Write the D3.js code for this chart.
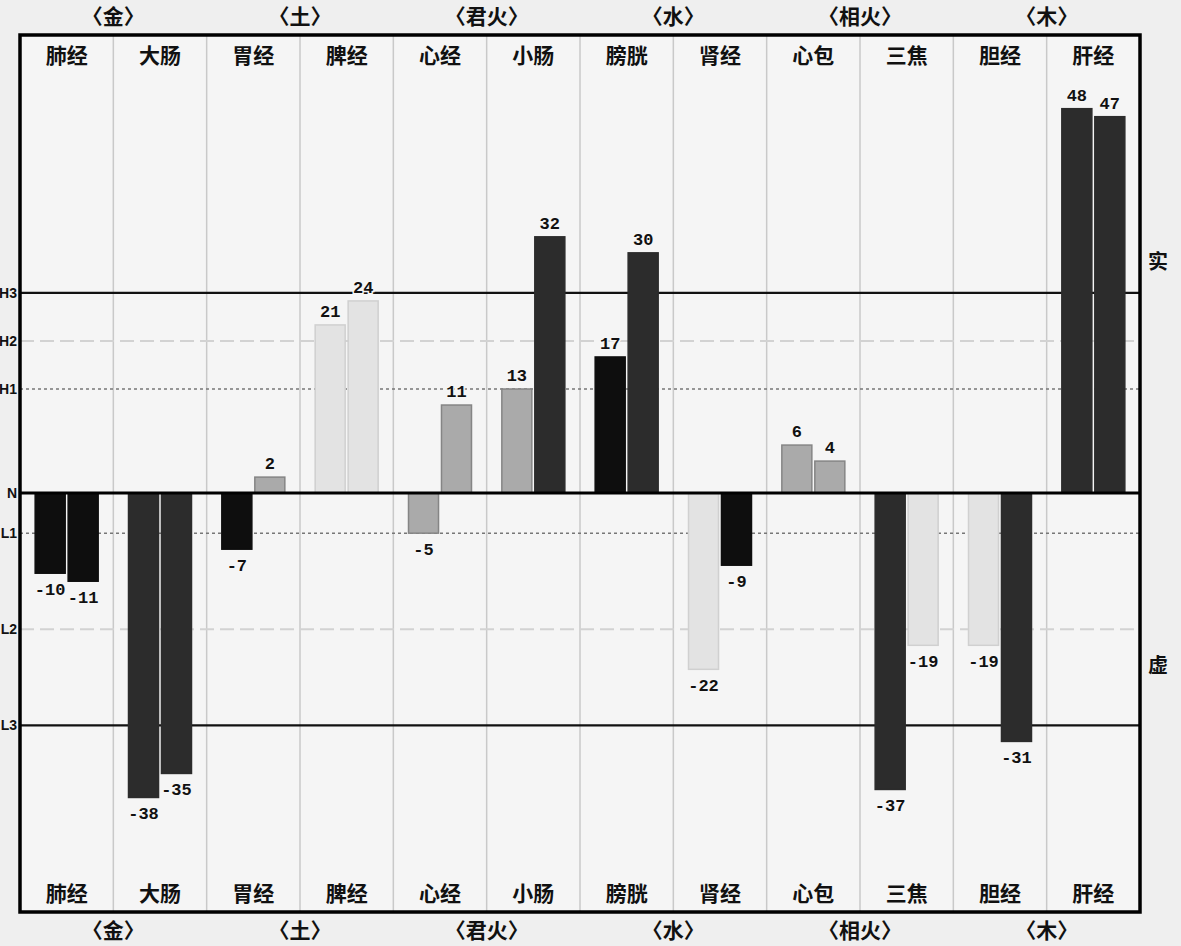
<!DOCTYPE html>
<html>
<head>
<meta charset="utf-8">
<script src="https://cdn.jsdelivr.net/npm/d3@7"></script>
<style>
  body { margin: 0; background: #efefef; }
  svg { display: block; }
  .col-label, .elem-label, .side-label { font-family: "Noto Sans CJK SC", sans-serif; font-weight: 700; fill: #111; }
  .val { font-family: "Liberation Mono", monospace; font-weight: 700; font-size: 17px; fill: #111;
         stroke: #f6f6f6; stroke-width: 3px; paint-order: stroke; }
  .lvl { font-family: "Liberation Sans Narrow", "Liberation Sans", sans-serif; font-weight: 700; font-size: 14px; fill: #111; }
</style>
</head>
<body>
<svg width="1181" height="946"></svg>
<script>
// meridians, two readings per meridian (left / right)
let meridians = ["肺经", "大肠", "胃经", "脾经", "心经", "小肠", "膀胱", "肾经", "心包", "三焦", "胆经", "肝经"];
let leftValues  = [-10, -38, -7, 21, -5, 13, 17, -22, 6, -37, -19, 48];
let rightValues = [-11, -35,  2, 24, 11, 32, 30,  -9, 4, -19, -31, 47];
// five-element groups, each covers two meridians
let elements = ["〈金〉", "〈土〉", "〈君火〉", "〈水〉", "〈相火〉", "〈木〉"];
// reference levels
let levelNames  = ["H3", "H2", "H1", "N", "L1", "L2", "L3"];
let levelValues = [25, 19, 13, 0, -5, -17, -29];

var svg = d3.select("svg");
let frame = { left: 20, right: 1140, top: 35, bottom: 912 };

// x: one band per meridian, inner band for the pair of bars
let xScale = d3.scaleBand()
  .domain(meridians)
  .range([frame.left, frame.right])
  .padding(0);
let pairScale = d3.scaleBand()
  .domain([0, 1])
  .range([0, xScale.bandwidth()])
  .paddingInner(0.09)
  .paddingOuter(0.46);

let yScale = d3.scaleLinear()
  .domain([-52.3, 57.2])
  .range([frame.bottom, frame.top]);

// plot background
svg.append("rect")
  .attr("x", frame.left).attr("y", frame.top)
  .attr("width", frame.right - frame.left).attr("height", frame.bottom - frame.top)
  .attr("fill", "#f5f5f5");

// column separators
svg.append("g").selectAll("line")
  .data(meridians.slice(1))
  .enter().append("line")
  .attr("x1", d => xScale(d)).attr("x2", d => xScale(d))
  .attr("y1", frame.top).attr("y2", frame.bottom)
  .attr("stroke", "#c9c9c9").attr("stroke-width", 1.5);

// level lines
let levelStyle = {
  H3: { c: "#111", w: 2.2, dash: null },
  H2: { c: "#d2d2d2", w: 2, dash: "14,6" },
  H1: { c: "#777", w: 1.5, dash: "3,3" },
  N:  { c: "#000", w: 3, dash: null },
  L1: { c: "#777", w: 1.5, dash: "3,3" },
  L2: { c: "#d2d2d2", w: 2, dash: "14,6" },
  L3: { c: "#111", w: 2.2, dash: null }
};
// N is drawn after the bars
levelNames.forEach((name, i) => {
  if (name === "N") return;
  let s = levelStyle[name];
  svg.append("line")
    .attr("x1", frame.left).attr("x2", frame.right)
    .attr("y1", yScale(levelValues[i])).attr("y2", yScale(levelValues[i]))
    .attr("stroke", s.c).attr("stroke-width", s.w)
    .attr("stroke-dasharray", s.dash);
});

// bar colour follows how many levels the value passes
let fills   = ["#aaaaaa", "#0e0e0e", "#e3e3e3", "#2c2c2c"];
let borders = ["#858585", "#0e0e0e", "#d0d0d0", "#2c2c2c"];
var levelCount = function(v) {
  if (v >= 0) return [13, 19, 25].filter(h => v > h).length;
  return [-5, -17, -29].filter(l => v < l).length;
};

let bars = [];
meridians.forEach((m, i) => {
  bars.push({ m: m, k: 0, v: leftValues[i] });
  bars.push({ m: m, k: 1, v: rightValues[i] });
});

let barG = svg.append("g");
barG.selectAll("rect")
  .data(bars)
  .enter().append("rect")
  .attr("x", d => xScale(d.m) + pairScale(d.k))
  .attr("width", pairScale.bandwidth())
  .attr("y", d => yScale(Math.max(0, d.v)))
  .attr("height", d => Math.abs(yScale(d.v) - yScale(0)))
  .attr("fill", d => fills[levelCount(d.v)])
  .attr("stroke", d => borders[levelCount(d.v)])
  .attr("stroke-width", 1.5);

// zero line (N)
svg.append("line")
  .attr("x1", frame.left).attr("x2", frame.right)
  .attr("y1", yScale(0)).attr("y2", yScale(0))
  .attr("stroke", "#000").attr("stroke-width", 3);

// value labels
barG.selectAll("text")
  .data(bars)
  .enter().append("text")
  .attr("class", "val")
  .attr("text-anchor", "middle")
  .attr("x", d => xScale(d.m) + pairScale(d.k) + pairScale.bandwidth() / 2)
  .attr("y", d => d.v >= 0 ? yScale(d.v) - 8 : yScale(d.v) + 22)
  .text(d => d.v);

// frame
svg.append("rect")
  .attr("x", frame.left).attr("y", frame.top)
  .attr("width", frame.right - frame.left).attr("height", frame.bottom - frame.top)
  .attr("fill", "none").attr("stroke", "#000").attr("stroke-width", 3.5);

// meridian names, top and bottom
[63, 901].forEach(yy => {
  svg.append("g").selectAll("text")
    .data(meridians)
    .enter().append("text")
    .attr("class", "col-label")
    .attr("font-size", 21)
    .attr("text-anchor", "middle")
    .attr("x", d => xScale(d) + xScale.bandwidth() / 2)
    .attr("y", yy)
    .text(d => d);
});

// element groups, centred between their two meridians
[24, 938].forEach(yy => {
  svg.append("g").selectAll("text")
    .data(elements)
    .enter().append("text")
    .attr("class", "elem-label")
    .attr("font-size", 21)
    .attr("text-anchor", "middle")
    .attr("x", (d, i) => xScale(meridians[2 * i + 1]))
    .attr("y", yy)
    .text(d => d);
});

// level names on the left edge
svg.append("g").selectAll("text")
  .data(levelNames)
  .enter().append("text")
  .attr("class", "lvl")
  .attr("text-anchor", "end")
  .attr("x", 17)
  .attr("y", (d, i) => yScale(levelValues[i]) + 5)
  .text(d => d);

// 实 / 虚
svg.append("text").attr("class", "side-label").attr("font-size", 20)
  .attr("text-anchor", "middle").attr("x", 1158).attr("y", yScale(28))
  .text("实");
svg.append("text").attr("class", "side-label").attr("font-size", 20)
  .attr("text-anchor", "middle").attr("x", 1158).attr("y", yScale(-22.5))
  .text("虚");
</script>
</body>
</html>
